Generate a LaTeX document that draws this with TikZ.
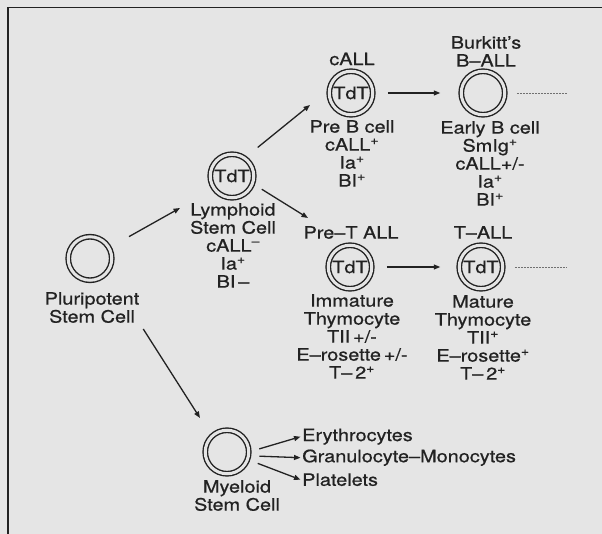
\documentclass[tikz,border=0pt]{standalone}
\usepackage{fontspec}
\setmainfont{TeX Gyre Heros}[FakeStretch=1.17,FakeBold=0.7]
\usetikzlibrary{arrows.meta}
\definecolor{Ink}{HTML}{222222}
\definecolor{Paper}{HTML}{E5E5E5}
\definecolor{Muted}{HTML}{707070}
\tikzset{cell/.style={circle,draw=Ink,line width=1.4pt,double=Paper,double distance=3pt,minimum size=43.5pt,inner sep=0pt,outer sep=0pt,text=Ink},desc/.style={align=center,inner sep=0pt,anchor=north,text=Ink},item/.style={anchor=west,inner sep=1.5pt,text=Ink},flow/.style={-{Triangle[length=6.5pt,width=5pt]},line width=1.3pt,draw=Ink},trail/.style={line width=.8pt,draw=Muted,dash pattern=on 2pt off 1pt}}

\begin{document}
\begin{tikzpicture}[x=1pt,y=-1pt,font=\fontsize{17pt}{18pt}\selectfont]
      \fill[Paper](0,0)rectangle(602,534);\useasboundingbox(0,0)rectangle(602,534);
      \draw[Ink,line width=1.4pt](8,534)--(8,7.5)--(602,7.5);
      % cells
      \node[cell](pluri)at(90,258.5){};
      \node[cell](lymph)at(232,176){TdT};
      \node[cell](preB)at(351,93){TdT};
      \node[cell](burk)at(483,93){};
      \node[cell](preT)at(350,267){TdT};
      \node[cell](tall)at(481,267){TdT};
      \node[cell](myel)at(227,452){};
      % texts
      \node[desc](pluritxt)at(92,292){Pluripotent\\Stem Cell};
      \node[desc](lymphtxt)at(233,203){Lymphoid\\Stem Cell\\cALL\textsuperscript{--}\\Ia\textsuperscript{+}\\BI\,--};
      \node[desc](preBlbl)at(352,52.5){cALL};
      \node[desc](preBtxt)at(352,120){Pre B cell\\cALL\textsuperscript{+}\\Ia\textsuperscript{+}\\BI\textsuperscript{+}};
      \node[desc](burklbl)at(486,36){Burkitt’s\\B--ALL};
      \node[desc](burktxt)at(490,121){Early B cell\\SmIg\textsuperscript{+}\\cALL+/-\\Ia\textsuperscript{+}\\BI\textsuperscript{+}};
      \node[desc](preTlbl)at(351,226){Pre--T ALL};
      \node[desc](tallbl)at(483,226){T--ALL};
      \node[desc](preTtxt)at(352,294){Immature\\Thymocyte\\TII\,+/-\\E--rosette\,+/-\\T--\,2\textsuperscript{+}};
      \node[desc](talltxt)at(483,295){Mature\\Thymocyte\\TII\textsuperscript{+}\\E--rosette\textsuperscript{+}\\T--\,2\textsuperscript{+}};
      \node[desc](myeltxt)at(237,480){Myeloid\\Stem Cell};
      \node[item](ery)at(300.5,436.7){Erythrocytes};
      \node[item](gran)at(300.5,457.7){Granulocyte--Monocytes};
      \node[item](plat)at(300.5,479.7){Platelets};
      % arrow tips
      \coordinate(tipL)at(180,208);\coordinate(tipB)at(310,105);\coordinate(tipT)at(308,218);\coordinate(tipM)at(200,418);
      \coordinate(endB)at(567,93);\coordinate(endT)at(567,267);
      \draw[flow,shorten <=23pt](pluri)--(tipL);
      \draw[flow,shorten <=17pt](lymph.55)--(tipB);\draw[flow,shorten <=11pt](lymph.-20)--(tipT);
      \draw[flow,shorten <=7pt](pluritxt.south east)--(tipM);
      \draw[flow,shorten <=15pt,shorten >=21pt](preB)--(burk);\draw[flow,shorten <=15pt,shorten >=19pt](preT)--(tall);
      \draw[trail,shorten <=12pt](burk)--(endB);\draw[trail,shorten <=12pt](tall)--(endT);
      \draw[flow,shorten <=11pt](myel.east)--(ery.west);\draw[flow,shorten <=11pt](myel.-10)--(gran.west);\draw[flow,shorten <=11pt](myel.-20)--(plat.west);
    \end{tikzpicture}
\end{document}
